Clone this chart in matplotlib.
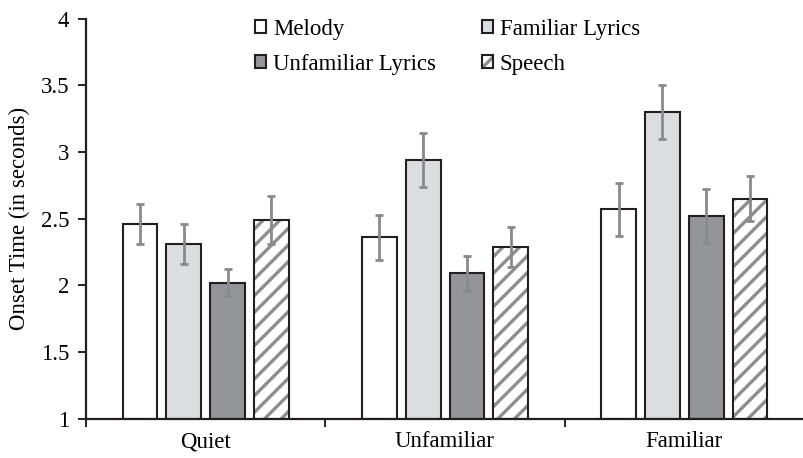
import numpy as np
import matplotlib
matplotlib.use("Agg")
import matplotlib.pyplot as plt

# Mean onset times (seconds) and error bar half-widths per condition
conditions = ["Quiet", "Unfamiliar", "Familiar"]
series_names = ["Melody", "Familiar Lyrics", "Unfamiliar Lyrics", "Speech"]
melody = [2.46, 2.36, 2.57]
familiar_lyrics = [2.31, 2.94, 3.30]
unfamiliar_lyrics = [2.02, 2.09, 2.52]
speech = [2.49, 2.29, 2.65]
melody_err = [0.15, 0.17, 0.20]
familiar_lyrics_err = [0.15, 0.20, 0.20]
unfamiliar_lyrics_err = [0.10, 0.13, 0.20]
speech_err = [0.18, 0.15, 0.17]
y_ticks = [1, 1.5, 2, 2.5, 3, 3.5, 4]

plt.rcParams["font.family"] = ["Liberation Serif", "DejaVu Serif"]
plt.rcParams["hatch.linewidth"] = 2.4

FS = 16.5
fig = plt.figure(figsize=(8.04, 4.58), dpi=100)
ax = fig.add_axes([0.107, 0.0862, 0.893, 0.8734])

edge = "#231f20"
hatch_col = "#8e8e8e"
err_col = "#8a8a8a"
fills = ["white", "#dcdddf", "#939598", "white"]
values = [melody, familiar_lyrics, unfamiliar_lyrics, speech]
errors = [melody_err, familiar_lyrics_err, unfamiliar_lyrics_err, speech_err]

x = np.arange(len(conditions))
width = 0.145
step = 0.1826
handles = []
for i, (vals, errs) in enumerate(zip(values, errors)):
    pos = x + (i - 1.5) * step
    heights = np.array(vals) - 1
    if i == 3:
        # striped fill drawn in grey, outline drawn on top in dark
        hb = ax.bar(pos, heights, bottom=1, width=width, facecolor="white",
                    edgecolor=hatch_col, linewidth=0, hatch="//", zorder=2)
        ob = ax.bar(pos, heights, bottom=1, width=width, facecolor="none",
                    edgecolor=edge, linewidth=1.5, zorder=2.5)
        handles.append((hb, ob))
    else:
        b = ax.bar(pos, heights, bottom=1, width=width, facecolor=fills[i],
                   edgecolor=edge, linewidth=1.5, zorder=2)
        handles.append(b)
    ax.errorbar(pos, vals, yerr=errs, fmt="none", ecolor=err_col,
                elinewidth=2, capsize=3, capthick=2, zorder=3)

ax.set_xlim(-0.5, 2.5)
ax.set_ylim(1, 4)
ax.set_yticks(y_ticks)
ax.set_yticklabels([f"{t:g}" for t in y_ticks])
ax.set_xticks(x)
ax.set_xticklabels(conditions)
ax.set_xticks([-0.5, 0.5, 1.5, 2.5], minor=True)
ax.tick_params(axis="x", which="major", length=0, labelsize=FS, pad=9)
ax.tick_params(axis="x", which="minor", length=6, width=1.2, direction="out")
ax.tick_params(axis="y", length=6, width=1.2, labelsize=FS, pad=6)
for side in ["top", "right"]:
    ax.spines[side].set_visible(False)
for side in ["left", "bottom"]:
    ax.spines[side].set_linewidth(1.6)
    ax.spines[side].set_color(edge)
ax.set_ylabel("Onset Time (in seconds)", fontsize=FS, labelpad=8)

order = [0, 2, 1, 3]
leg = fig.legend([handles[k] for k in order], [series_names[k] for k in order],
                 ncol=2, loc="upper left", bbox_to_anchor=(255 / 804, 1 - 19 / 458),
                 frameon=False, fontsize=FS, handlelength=0.48, handleheight=0.48,
                 handletextpad=0.3, columnspacing=2.0, labelspacing=0.6,
                 borderpad=0, borderaxespad=0)

fig.savefig("out.png", dpi=100)
